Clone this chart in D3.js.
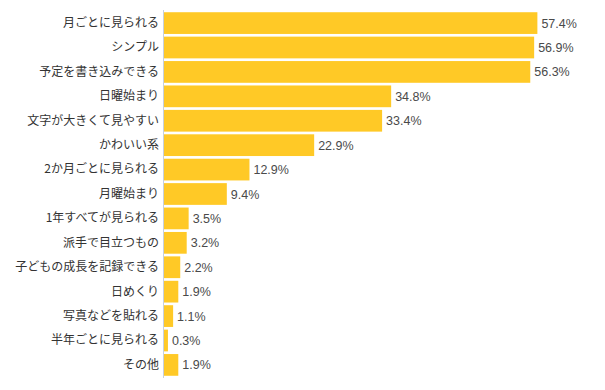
<!DOCTYPE html>
<html><head><meta charset="utf-8">
<script src="https://cdn.jsdelivr.net/npm/d3@7/dist/d3.min.js"></script>
<style>body{margin:0;background:#fff}svg{display:block}</style>
</head><body><svg id="c" width="605" height="390"></svg>
<script>
const categories = ["月ごとに見られる","シンプル","予定を書き込みできる","日曜始まり","文字が大きくて見やすい","かわいい系","2か月ごとに見られる","月曜始まり","1年すべてが見られる","派手で目立つもの","子どもの成長を記録できる","日めくり","写真などを貼れる","半年ごとに見られる","その他"];
const values = [57.4,56.9,56.3,34.8,33.4,22.9,12.9,9.4,3.5,3.2,2.2,1.9,1.1,0.3,1.9];

const svg = d3.select("#c");
const axisX = 163;
const x = d3.scaleLinear().domain([0,60]).range([166,166+60*6.47]);
const y = d3.scaleBand().domain(categories).range([11,377]).paddingInner(0.11).paddingOuter(0.05);

svg.selectAll("rect.bar").data(values).join("rect")
  .attr("class","bar")
  .attr("x",axisX+1).attr("y",(d,i)=>y(categories[i]))
  .attr("width",d=>x(d)-axisX-1).attr("height",y.bandwidth())
  .attr("fill","#ffc926");

svg.selectAll("text.val").data(values).join("text")
  .attr("class","val")
  .attr("x",d=>x(d)+4).attr("y",(d,i)=>y(categories[i])+y.bandwidth()/2)
  .attr("dy","0.36em")
  .attr("font-family","Liberation Sans, Arial, sans-serif").attr("font-size",12.5)
  .attr("fill","#4a4a4a").text(d=>d.toFixed(1)+"%");

const ax = d3.axisLeft(y).tickSize(0).tickPadding(4);
const g = svg.append("g").attr("transform",`translate(${axisX},0)`).call(ax);
g.select(".domain").attr("stroke","#c8d0dc").attr("d","M0.5,10V378");
g.selectAll("text").attr("font-family","Noto Sans CJK JP, sans-serif").attr("font-size",12).attr("fill","#333");
</script></body></html>
